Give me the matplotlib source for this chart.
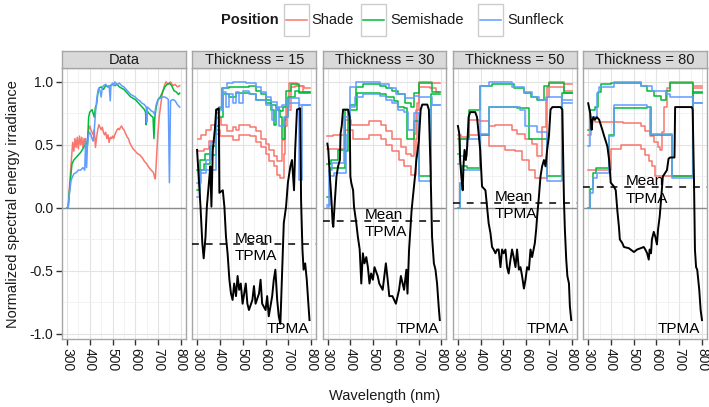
import matplotlib
matplotlib.use("Agg")
import matplotlib.pyplot as plt
from matplotlib.patches import Rectangle
from matplotlib.lines import Line2D

plt.rcParams['font.family'] = ['Liberation Sans', 'DejaVu Sans']

# ---- data ----
# "Data" panel: normalized spectra (wavelength nm, value)
data_shade = [(300, 0.0), (305, 0.0), (310, 0.15), (318, 0.35), (325, 0.52), (330, 0.45), (335, 0.55),
              (340, 0.48), (345, 0.56), (350, 0.47), (355, 0.57), (360, 0.50), (365, 0.56), (370, 0.48),
              (375, 0.55), (380, 0.50), (385, 0.47), (390, 0.55), (395, 0.62), (400, 0.65), (405, 0.62),
              (410, 0.60), (415, 0.58), (420, 0.62), (425, 0.48), (430, 0.56), (435, 0.62), (440, 0.66),
              (445, 0.64), (450, 0.62), (455, 0.64), (460, 0.60), (465, 0.58), (470, 0.60), (475, 0.55),
              (480, 0.58), (485, 0.52), (490, 0.56), (495, 0.55), (500, 0.57), (505, 0.55), (510, 0.58),
              (515, 0.60), (520, 0.62), (525, 0.63), (530, 0.62), (535, 0.64), (540, 0.65), (545, 0.63),
              (550, 0.62), (555, 0.60), (560, 0.58), (565, 0.56), (570, 0.55), (575, 0.52), (580, 0.50),
              (590, 0.47), (600, 0.45), (610, 0.43), (620, 0.42), (630, 0.40), (640, 0.37), (650, 0.35),
              (660, 0.32), (670, 0.30), (680, 0.28), (685, 0.24), (688, 0.23), (692, 0.35), (698, 0.55),
              (705, 0.72), (712, 0.82), (720, 0.92), (728, 0.97), (735, 1.0), (745, 0.98), (755, 1.0),
              (765, 0.97), (775, 0.98), (785, 0.96), (795, 0.97)]
data_semishade = [(300, 0.0), (305, 0.0), (310, 0.12), (318, 0.28), (322, 0.35), (330, 0.38), (340, 0.40),
                  (350, 0.42), (360, 0.44), (370, 0.47), (380, 0.50), (385, 0.52), (390, 0.50), (395, 0.72),
                  (400, 0.76), (410, 0.78), (420, 0.72), (425, 0.80), (430, 0.82), (435, 0.90), (440, 0.95),
                  (450, 0.96), (460, 0.94), (470, 0.97), (480, 0.96), (490, 0.97), (500, 0.98), (510, 0.97),
                  (520, 0.98), (530, 0.96), (540, 0.95), (550, 0.94), (560, 0.92), (570, 0.90), (580, 0.88),
                  (590, 0.87), (600, 0.86), (610, 0.84), (620, 0.82), (630, 0.80), (640, 0.78), (645, 0.76),
                  (648, 0.66), (652, 0.77), (660, 0.75), (670, 0.73), (678, 0.72), (682, 0.55), (686, 0.72),
                  (692, 0.80), (700, 0.86), (710, 0.88), (720, 0.92), (730, 0.96), (740, 0.98), (750, 0.99),
                  (760, 0.97), (770, 0.93), (780, 0.92), (790, 0.90), (795, 0.91)]
data_sunfleck = [(300, 0.0), (305, 0.0), (310, 0.10), (318, 0.22), (325, 0.25), (330, 0.27), (340, 0.28),
                 (350, 0.30), (360, 0.30), (370, 0.32), (378, 0.30), (382, 0.55), (386, 0.32), (390, 0.50),
                 (395, 0.58), (400, 0.60), (405, 0.58), (410, 0.55), (415, 0.53), (420, 0.62), (425, 0.75),
                 (430, 0.85), (435, 0.92), (440, 0.95), (445, 0.93), (450, 0.88), (455, 0.95), (460, 0.97),
                 (470, 0.98), (480, 0.96), (485, 0.97), (490, 0.85), (493, 0.97), (500, 0.99), (505, 0.97),
                 (510, 1.0), (520, 0.98), (530, 0.99), (540, 0.97), (550, 0.96), (560, 0.94), (570, 0.92),
                 (580, 0.90), (590, 0.89), (600, 0.88), (610, 0.86), (620, 0.85), (630, 0.83), (640, 0.82),
                 (648, 0.80), (650, 0.68), (653, 0.80), (660, 0.79), (670, 0.77), (680, 0.76), (685, 0.74),
                 (692, 0.82), (700, 0.86), (710, 0.87), (720, 0.88), (730, 0.88), (740, 0.87), (745, 0.86),
                 (750, 0.20), (755, 0.85), (765, 0.86), (775, 0.85), (785, 0.82), (795, 0.80)]

# thickness panels: stepped upper / lower lines (wavelength where step starts, value)
t15_shade_hi = [(303, 0.55), (318, 0.58), (340, 0.62), (360, 0.66), (383, 0.71), (405, 0.66), (430, 0.61),
                (455, 0.64), (470, 0.62), (484, 0.66), (530, 0.645), (556, 0.61), (578, 0.55), (600, 0.51),
                (614, 0.46), (636, 0.41), (650, 0.37), (672, 0.54), (680, 0.70), (690, 0.79), (705, 0.99),
                (740, 0.97), (770, 0.95), (797, 0.95)]
t15_shade_lo = [(303, 0.45), (330, 0.47), (350, 0.53), (383, 0.62), (400, 0.57), (455, 0.54), (484, 0.58),
                (530, 0.57), (556, 0.52), (578, 0.48), (600, 0.43), (614, 0.37), (636, 0.33), (650, 0.26),
                (665, 0.235), (679, 0.43), (687, 0.65), (694, 0.78), (712, 0.96), (730, 0.97), (765, 0.92),
                (797, 0.92)]
t15_semi_hi = [(300, 0.30), (312, 0.38), (332, 0.43), (354, 0.49), (380, 0.78), (397, 0.79), (410, 0.95),
               (440, 0.96), (527, 0.97), (556, 0.93), (578, 0.90), (600, 0.86), (625, 0.82), (645, 0.79),
               (660, 0.77), (675, 0.80), (690, 0.93), (710, 0.98), (745, 0.92), (797, 0.92)]
t15_semi_lo = [(300, 0.14), (312, 0.30), (330, 0.35), (354, 0.42), (380, 0.65), (397, 0.72), (412, 0.90),
               (440, 0.88), (470, 0.91), (530, 0.90), (560, 0.86), (600, 0.83), (625, 0.78), (636, 0.66),
               (645, 0.78), (665, 0.72), (672, 0.55), (685, 0.72), (700, 0.88), (730, 0.93), (745, 0.91),
               (797, 0.91)]
t15_sun_hi = [(300, 0.20), (315, 0.30), (340, 0.38), (360, 0.52), (383, 0.75), (397, 0.78), (412, 0.95),
              (430, 0.99), (455, 1.0), (513, 0.99), (556, 0.96), (578, 0.92), (600, 0.88), (625, 0.84),
              (650, 0.80), (670, 0.82), (690, 0.86), (705, 0.87), (745, 0.82), (797, 0.82)]
t15_sun_lo = [(300, 0.09), (312, 0.28), (340, 0.30), (383, 0.59), (397, 0.80), (412, 0.92), (426, 0.80),
              (440, 0.90), (455, 0.83), (470, 0.92), (484, 0.83), (500, 0.93), (527, 0.90), (560, 0.86),
              (600, 0.82), (630, 0.70), (645, 0.79), (660, 0.65), (680, 0.72), (700, 0.83), (745, 0.22),
              (760, 0.82), (797, 0.82)]

t30_shade_hi = [(299, 0.57), (325, 0.58), (375, 0.70), (404, 0.66), (484, 0.69), (535, 0.66), (556, 0.61),
                (585, 0.55), (622, 0.48), (643, 0.43), (665, 0.41), (680, 0.59), (687, 0.78), (701, 1.0),
                (759, 0.99), (796, 0.99)]
t30_shade_lo = [(299, 0.47), (375, 0.62), (410, 0.55), (484, 0.58), (535, 0.55), (556, 0.50), (585, 0.45),
                (615, 0.38), (636, 0.33), (665, 0.26), (687, 0.55), (694, 0.83), (701, 0.96), (750, 0.95),
                (775, 0.92), (796, 0.92)]
t30_semi_hi = [(299, 0.35), (317, 0.38), (346, 0.46), (375, 0.78), (397, 0.82), (426, 0.96), (455, 0.98),
               (530, 0.97), (556, 0.95), (585, 0.93), (610, 0.90), (640, 0.83), (665, 0.80), (680, 0.91),
               (700, 0.99), (760, 0.92), (796, 0.92)]
t30_semi_lo = [(299, 0.09), (310, 0.32), (375, 0.45), (390, 0.78), (430, 0.91), (530, 0.90), (556, 0.88),
               (590, 0.85), (610, 0.80), (636, 0.79), (651, 0.55), (680, 0.69), (701, 0.25), (755, 0.90),
               (796, 0.90)]
t30_sun_hi = [(299, 0.01), (305, 0.30), (320, 0.36), (370, 0.72), (397, 0.96), (426, 1.0), (530, 0.98),
              (570, 0.95), (600, 0.90), (640, 0.87), (680, 0.89), (700, 0.88), (760, 0.82), (796, 0.82)]
t30_sun_lo = [(299, 0.02), (310, 0.25), (330, 0.28), (383, 0.58), (397, 0.80), (420, 0.88), (455, 0.90),
              (530, 0.89), (556, 0.86), (585, 0.83), (610, 0.78), (636, 0.76), (655, 0.62), (680, 0.75),
              (701, 0.21), (756, 0.82), (796, 0.82)]

t50_shade_hi = [(300, 0.58), (315, 0.56), (347, 0.70), (398, 0.69), (435, 0.65), (465, 0.66), (538, 0.62),
                (560, 0.59), (597, 0.55), (626, 0.51), (648, 0.41), (670, 0.64), (685, 0.88), (700, 1.0),
                (766, 0.98), (800, 0.98)]
t50_shade_lo = [(300, 0.55), (347, 0.58), (435, 0.49), (509, 0.46), (553, 0.45), (582, 0.38), (612, 0.30),
                (638, 0.235), (692, 0.96), (766, 0.93), (800, 0.93)]
t50_semi_hi = [(300, 0.43), (310, 0.55), (347, 0.78), (398, 0.97), (450, 0.98), (545, 0.95), (590, 0.91),
               (619, 0.88), (648, 0.86), (678, 0.97), (700, 0.99), (766, 0.91), (800, 0.91)]
t50_semi_lo = [(300, 0.0), (310, 0.2), (318, 0.33), (341, 0.32), (398, 0.58), (435, 0.80), (560, 0.79),
               (612, 0.55), (692, 0.25), (759, 0.91), (800, 0.91)]
t50_sun_hi = [(300, 0.35), (310, 0.41), (341, 0.55), (398, 0.97), (435, 1.0), (538, 0.96), (590, 0.92),
              (626, 0.88), (656, 0.86), (692, 0.88), (759, 0.83), (800, 0.83)]
t50_sun_lo = [(300, 0.0), (310, 0.2), (318, 0.30), (398, 0.59), (435, 0.80), (575, 0.78), (597, 0.65),
              (648, 0.60), (692, 0.21), (759, 0.86), (800, 0.86)]

t80_shade_hi = [(300, 0.58), (312, 0.70), (330, 0.685), (455, 0.67), (530, 0.65), (550, 0.61), (570, 0.57),
                (590, 0.52), (605, 0.48), (617, 0.46), (625, 0.60), (635, 0.80), (646, 0.95), (660, 1.0),
                (762, 0.97), (800, 0.97)]
t80_shade_lo = [(300, 0.30), (399, 0.47), (445, 0.50), (530, 0.47), (550, 0.42), (565, 0.37), (580, 0.33),
                (595, 0.25), (762, 0.95), (800, 0.95)]
t80_semi_hi = [(300, 0.62), (309, 0.78), (330, 0.80), (345, 0.92), (355, 0.98), (399, 0.99), (530, 0.97),
               (560, 0.93), (590, 0.89), (620, 0.86), (640, 0.93), (660, 0.99), (762, 0.91), (800, 0.91)]
t80_semi_lo = [(300, 0.0), (310, 0.15), (320, 0.28), (334, 0.32), (392, 0.58), (413, 0.79), (560, 0.80),
               (578, 0.58), (668, 0.25), (762, 0.92), (800, 0.92)]
t80_sun_hi = [(300, 0.49), (309, 0.72), (338, 0.91), (348, 0.96), (413, 1.0), (530, 0.97), (580, 0.93),
              (640, 0.90), (660, 0.88), (762, 0.83), (800, 0.83)]
t80_sun_lo = [(300, 0.0), (310, 0.12), (322, 0.24), (338, 0.28), (392, 0.57), (413, 0.82), (560, 0.80),
              (573, 0.59), (668, 0.235), (762, 0.83), (800, 0.83)]

# TPMA curves (black)
t15_tpma = [(299, 0.46), (307, 0.22), (314, 0.01), (322, -0.28), (328, -0.40), (336, -0.23), (342, 0.01),
            (351, 0.20), (357, 0.33), (362, 0.01), (368, 0.46), (377, 0.62), (383, 0.78), (394, 0.79),
            (397, 0.12), (412, 0.14), (419, 0.01), (426, -0.23), (433, -0.36), (441, -0.57), (448, -0.68),
            (455, -0.73), (462, -0.60), (470, -0.70), (477, -0.54), (484, -0.65), (491, -0.60), (499, -0.76),
            (513, -0.60), (520, -0.76), (527, -0.81), (542, -0.73), (549, -0.62), (556, -0.76), (571, -0.68),
            (578, -0.57), (585, -0.76), (600, -0.81), (607, -0.70), (614, -0.86), (629, -0.70), (636, -0.57),
            (643, -0.49), (651, -0.73), (658, -0.86), (665, -0.92), (680, -0.12), (690, 0.01), (698, 0.20),
            (709, 0.33), (716, 0.38), (725, 0.14), (730, 0.46), (738, 0.78), (752, 0.79), (756, 0.06),
            (762, -0.33), (767, -0.49), (774, -0.44), (781, -0.57), (788, -0.76), (793, -0.89)]
t30_tpma = [(299, 0.51), (303, 0.46), (310, 0.25), (317, 0.06), (322, -0.12), (325, -0.15), (332, 0.06),
            (339, 0.25), (346, 0.33), (354, 0.38), (357, 0.59), (362, 0.65), (368, 0.78), (390, 0.78),
            (397, 0.72), (400, 0.25), (404, 0.20), (412, 0.14), (416, 0.01), (426, -0.12), (433, -0.23),
            (441, -0.33), (448, -0.60), (455, -0.36), (462, -0.44), (470, -0.39), (477, -0.47), (484, -0.60),
            (491, -0.52), (499, -0.57), (506, -0.47), (520, -0.54), (527, -0.60), (542, -0.65), (556, -0.44),
            (564, -0.57), (571, -0.70), (585, -0.70), (600, -0.76), (614, -0.65), (622, -0.54), (636, -0.65),
            (646, -0.49), (651, -0.68), (658, -0.33), (669, -0.02), (675, 0.09), (684, 0.25), (690, 0.38),
            (696, 0.46), (701, 0.54), (709, 0.78), (716, 0.82), (738, 0.82), (745, 0.78), (752, 0.33),
            (759, -0.23), (767, -0.44), (774, -0.49), (781, -0.60), (788, -0.78), (793, -0.89)]
t50_tpma = [(300, 0.65), (306, 0.59), (310, 0.38), (315, 0.25), (321, 0.14), (325, 0.35), (329, 0.46),
            (335, 0.38), (341, 0.49), (347, 0.72), (354, 0.76), (376, 0.76), (384, 0.72), (391, 0.59),
            (398, 0.46), (406, 0.17), (421, 0.14), (428, 0.01), (435, -0.12), (443, -0.20), (450, -0.31),
            (457, -0.33), (465, -0.36), (472, -0.33), (479, -0.33), (487, -0.47), (494, -0.33), (501, -0.36),
            (509, -0.33), (516, -0.47), (523, -0.52), (531, -0.41), (538, -0.33), (545, -0.39), (553, -0.47),
            (560, -0.33), (568, -0.49), (575, -0.47), (582, -0.54), (590, -0.64), (597, -0.57), (604, -0.47),
            (612, -0.49), (619, -0.33), (626, -0.39), (638, -0.28), (644, -0.17), (648, -0.07), (656, 0.09),
            (663, 0.25), (670, 0.33), (678, 0.38), (685, 0.33), (692, 0.46), (700, 0.57), (707, 0.78),
            (715, 0.80), (751, 0.80), (759, 0.78), (762, 0.46), (766, 0.06), (770, -0.17), (776, -0.41),
            (781, -0.54), (788, -0.60), (792, -0.78), (798, -0.89)]
t80_tpma = [(300, 0.83), (309, 0.75), (315, 0.62), (319, 0.70), (323, 0.72), (329, 0.70), (338, 0.72),
            (348, 0.70), (362, 0.62), (370, 0.57), (384, 0.49), (392, 0.38), (396, 0.28), (399, 0.20),
            (413, 0.17), (421, 0.14), (428, -0.02), (435, -0.15), (439, -0.25), (450, -0.28), (457, -0.31),
            (479, -0.32), (486, -0.33), (501, -0.35), (515, -0.33), (530, -0.32), (544, -0.31), (551, -0.33),
            (559, -0.36), (566, -0.41), (570, -0.33), (576, -0.36), (580, -0.25), (588, -0.19), (595, -0.23),
            (602, -0.29), (607, -0.17), (614, -0.07), (620, 0.06), (628, 0.25), (639, 0.28), (646, 0.30),
            (653, 0.39), (660, 0.40), (679, 0.40), (682, 0.80), (755, 0.80), (759, 0.78), (765, 0.20),
            (769, -0.33), (774, -0.47), (779, -0.49), (788, -0.65), (794, -0.81), (800, -0.89)]

thickness = [15, 30, 50, 80]
mean_tpma = [-0.29, -0.10, 0.04, 0.165]
positions = ["Shade", "Semishade", "Sunfleck"]
x_ticks = [300, 400, 500, 600, 700, 800]
y_ticks = [-1.0, -0.5, 0.0, 0.5, 1.0]

# ---- styling ----
colors = {"Shade": "#F8766D", "Semishade": "#00BA38", "Sunfleck": "#619CFF"}
W, H = 709, 407
fig = plt.figure(figsize=(W / 100, H / 100), dpi=100)


def fx(x):
    return x / W


def fy(y):
    return 1 - y / H


panel_left = [62, 192.3, 322.6, 452.9, 583.2]
panel_w = 123.8
p_top, p_bot, s_top = 68, 339, 51
border = "#a6a6a6"
txtcol = "#1a1a1a"

panel_env = [
    None,
    [(t15_shade_hi, t15_shade_lo), (t15_semi_hi, t15_semi_lo), (t15_sun_hi, t15_sun_lo)],
    [(t30_shade_hi, t30_shade_lo), (t30_semi_hi, t30_semi_lo), (t30_sun_hi, t30_sun_lo)],
    [(t50_shade_hi, t50_shade_lo), (t50_semi_hi, t50_semi_lo), (t50_sun_hi, t50_sun_lo)],
    [(t80_shade_hi, t80_shade_lo), (t80_semi_hi, t80_semi_lo), (t80_sun_hi, t80_sun_lo)],
]
panel_tpma = [None, t15_tpma, t30_tpma, t50_tpma, t80_tpma]
strip_labels = ["Data"] + ["Thickness = %d" % t for t in thickness]

for i, left in enumerate(panel_left):
    ax = fig.add_axes([fx(left), fy(p_bot), panel_w / W, (p_bot - p_top) / H])
    ax.set_xlim(278, 822)
    ax.set_ylim(-1.04, 1.11)
    ax.set_xticks(x_ticks)
    ax.set_xticks([350, 450, 550, 650, 750], minor=True)
    ax.set_yticks(y_ticks)
    ax.set_yticks([-0.75, -0.25, 0.25, 0.75], minor=True)
    ax.grid(True, which="major", color="#e3e3e3", lw=0.8, zorder=0)
    ax.grid(True, which="minor", color="#f0f0f0", lw=0.6, zorder=0)
    ax.set_axisbelow(True)
    for sp in ax.spines.values():
        sp.set_color(border)
        sp.set_linewidth(1.0)
    ax.tick_params(which="minor", length=0)
    ax.tick_params(which="major", length=4.2, width=1.0, color="#333333", labelsize=10,
                   labelcolor=txtcol, pad=2)
    ax.set_xticklabels([str(t) for t in x_ticks], rotation=270, va="top", ha="center")
    if i == 0:
        ax.set_yticklabels(["%.1f" % v for v in y_ticks])
    else:
        ax.tick_params(axis="y", length=0, labelleft=False)
    ax.axhline(0, color="#8c8c8c", lw=1.0, zorder=1)

    if i == 0:
        for name, series in zip(positions, [data_shade, data_semishade, data_sunfleck]):
            x, y = zip(*series)
            ax.plot(x, y, color=colors[name], lw=1.1, zorder=2)
    else:
        for name, (hi, lo) in zip(positions, panel_env[i]):
            for env in (hi, lo):
                x, y = zip(*env)
                ax.plot(x, y, color=colors[name], lw=1.1, drawstyle="steps-post", zorder=2)
        x, y = zip(*panel_tpma[i])
        ax.plot(x, y, color="black", lw=1.4, zorder=3)
        m = mean_tpma[i - 1]
        ax.axhline(m, color="black", lw=1.1, dashes=(4.5, 4.5), zorder=3)
        ax.text(463, m + 0.015, "Mean", fontsize=11, ha="left", va="baseline", color="black", zorder=4)
        ax.text(463, m - 0.035, "TPMA", fontsize=11, ha="left", va="top", color="black", zorder=4)
        ax.text(603, -0.99, "TPMA", fontsize=11, ha="left", va="baseline", color="black", zorder=4)

    # facet strip
    st = fig.add_axes([fx(left), fy(p_top), panel_w / W, (p_top - s_top) / H])
    st.set_facecolor("#d9d9d9")
    st.set_xticks([])
    st.set_yticks([])
    for sp in st.spines.values():
        sp.set_color(border)
        sp.set_linewidth(1.0)
    st.text(0.5, 0.45, strip_labels[i], transform=st.transAxes, ha="center", va="center",
            fontsize=10.5, color=txtcol)

# axis titles
fig.text(fx(13), fy(204), "Normalized spectral energy irradiance", rotation=90,
         ha="center", va="center", fontsize=10.5, color=txtcol)
fig.text(fx(385), fy(396), "Wavelength (nm)", ha="center", va="center", fontsize=10.5, color=txtcol)

# legend on top
fig.text(fx(221), fy(20), "Position", ha="left", va="center", fontsize=10.5, fontweight="bold",
         color=txtcol)
key_x = [284, 361, 478]
lab_x = [311, 390, 507]
for name, kx, lx in zip(positions, key_x, lab_x):
    fig.patches.append(Rectangle((fx(kx), fy(36)), 25 / W, 32 / H, transform=fig.transFigure,
                                 facecolor="white", edgecolor="#cccccc", lw=1.0))
    fig.lines.append(Line2D([fx(kx + 2), fx(kx + 23)], [fy(20), fy(20)], transform=fig.transFigure,
                            color=colors[name], lw=1.1))
    fig.text(fx(lx), fy(20), name, ha="left", va="center", fontsize=10.5, color=txtcol)

fig.savefig("out.png", dpi=100)
